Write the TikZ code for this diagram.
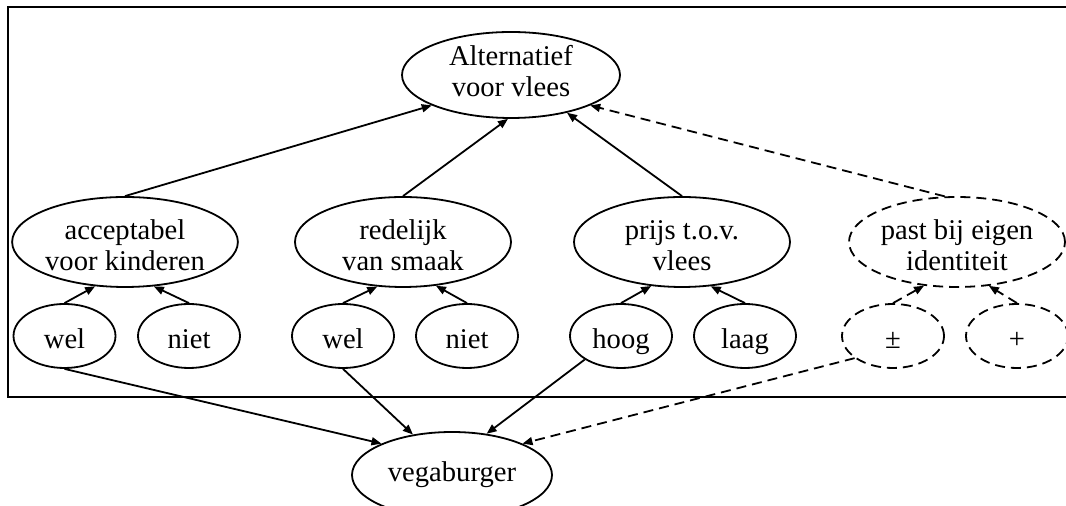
\documentclass[tikz,border=0pt]{standalone}
\usepackage{fontspec}
\setmainfont{Liberation Serif}
\usetikzlibrary{shapes.geometric,arrows.meta}
\newcommand\twolines[3][28.5pt]{\raisebox{0pt}[#1][0pt]{\vbox{\baselineskip=15.5pt\halign{\hfil##\hfil\cr#2\cr#3\cr}}}}
\begin{document}
\begin{tikzpicture}[x=0.5pt,y=-0.5pt,
  every node/.style={font=\fontsize{14.3}{15.5}\selectfont},
  bigel/.style={ellipse,draw,line width=0.9pt,inner sep=0pt,minimum width=108pt,minimum height=45pt},
  smallel/.style={ellipse,draw,line width=0.9pt,inner sep=0pt,minimum width=51pt,minimum height=32pt,text height=13pt,text depth=0pt},
  dsh/.style={dash pattern=on 5pt off 3pt},
  arr/.style={-{Triangle[length=5pt,width=4pt]},line width=0.9pt},
  frame/.style={draw,line width=1.1pt}
]
\clip (0,0) rectangle (1066,506);
\path[frame] (8,7) rectangle (1080,397);

\node[bigel,minimum width=109pt,minimum height=43pt] (alt) at (511,75) {\twolines[22pt]{Alternatief}{voor vlees}};
\node[bigel] (acc) at (125,242) {\twolines{acceptabel}{voor kinderen}};
\node[bigel] (red) at (403,242) {\twolines{redelijk}{van smaak}};
\node[bigel] (pri) at (682,242) {\twolines{prijs t.o.v.}{vlees}};
\node[bigel,dsh] (pas) at (957,242) {\twolines{past bij eigen}{identiteit}};

\node[smallel] (w1) at (64.5,336) {wel};
\node[smallel] (n1) at (189,336) {niet};
\node[smallel] (w2) at (343,336) {wel};
\node[smallel] (n2) at (467,336) {niet};
\node[smallel] (hoog) at (621,336) {hoog};
\node[smallel] (laag) at (745,336) {laag};
\node[smallel,dsh] (pm) at (893,336) {±};
\node[smallel,dsh] (plus) at (1017,336) {+};

\node[bigel,minimum width=100pt,minimum height=43pt,text height=7pt,text depth=0pt] (veg) at (452,475) {vegaburger};

\draw[arr] (acc.north) -- (alt.201);
\draw[arr] (red.north) -- (alt.266);
\draw[arr] (pri.north) -- (alt.326);
\draw[arr,dsh] (pas.105) -- (alt.339);

\draw[arr] (w1.north) -- (acc.236);
\draw[arr] (n1.north) -- (acc.303);
\draw[arr] (w2.north) -- (red.240);
\draw[arr] (n2.north) -- (red.307);
\draw[arr] (hoog.north) -- (pri.235);
\draw[arr] (laag.north) -- (pri.303);
\draw[arr,dsh] (pm.north) -- (pas.233);
\draw[arr,dsh] (plus.north) -- (pas.306);

\draw[arr] (w1.south) -- (veg.156);
\draw[arr] (w2.south) -- (veg.134);
\draw[arr] (hoog.213) -- (veg.50);
\draw[arr,dsh] (pm.210) -- (veg.24);
\end{tikzpicture}
\end{document}
